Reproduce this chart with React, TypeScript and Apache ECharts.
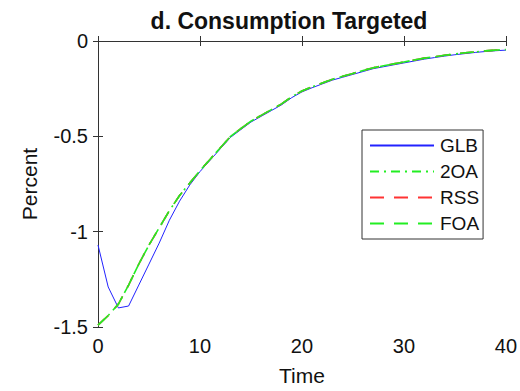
import React, { useEffect, useRef } from "react";
import * as echarts from "echarts";

const time = Array.from({ length: 41 }, (_, i) => i);

const glb = [
  -1.07, -1.29, -1.4, -1.39, -1.28, -1.17, -1.06, -0.94, -0.84, -0.755, -0.685,
  -0.625, -0.565, -0.505, -0.465, -0.425, -0.395, -0.365, -0.335, -0.297, -0.267,
  -0.245, -0.225, -0.205, -0.19, -0.175, -0.16, -0.145, -0.135, -0.125, -0.115,
  -0.105, -0.095, -0.087, -0.079, -0.072, -0.066, -0.06, -0.055, -0.051, -0.048,
];

const oa2 = [
  -1.49, -1.44, -1.38, -1.28, -1.17, -1.07, -0.98, -0.89, -0.81, -0.745, -0.68,
  -0.62, -0.56, -0.5, -0.46, -0.42, -0.39, -0.36, -0.33, -0.292, -0.262,
  -0.24, -0.22, -0.2, -0.185, -0.17, -0.155, -0.14, -0.13, -0.12, -0.11,
  -0.1, -0.09, -0.083, -0.075, -0.068, -0.062, -0.057, -0.052, -0.048, -0.045,
];

const rss = [...oa2];
const foa = [...oa2];

const pairs = (vals: number[]) => time.map((t, i) => [t, vals[i]]);

export default function App() {
  const ref = useRef<HTMLDivElement>(null);
  useEffect(() => {
    if (!ref.current) return;
    const chart = echarts.init(ref.current, undefined, { renderer: "svg" });
    const font = "Liberation Sans, Arial, sans-serif";
    const axisCommon = {
      axisLine: { show: true, lineStyle: { color: "#333", width: 1 } },
      axisTick: { show: true, inside: true, length: 5, lineStyle: { color: "#333" } },
      splitLine: { show: false },
    };
    chart.setOption({
      animation: false,
      title: {
        text: "d. Consumption Targeted",
        left: 284,
        top: 4,
        textAlign: "center",
        textStyle: { fontFamily: font, fontSize: 23, fontWeight: "bold", color: "#111" },
      },
      grid: { left: 98, right: 12, top: 41, bottom: 64, containLabel: false },
      legend: {
        orient: "vertical",
        left: 362,
        top: 130,
        padding: [6, 4, 6, 7],
        itemWidth: 64,
        itemHeight: 14,
        itemGap: 7,
        borderColor: "#333",
        borderWidth: 1,
        backgroundColor: "#fff",
        itemStyle: { color: "transparent", borderWidth: 0 },
        textStyle: { fontFamily: font, fontSize: 19, color: "#111", padding: [0, 0, 0, 1] },
        data: ["GLB", "2OA", "RSS", "FOA"],
      },
      xAxis: [
        {
          type: "value",
          min: 0,
          max: 40,
          interval: 10,
          name: "Time",
          nameLocation: "middle",
          nameGap: 38,
          nameTextStyle: { fontFamily: font, fontSize: 21, color: "#111" },
          axisLabel: { fontFamily: font, fontSize: 20, color: "#111", margin: 9 },
          ...axisCommon,
        },
        {
          type: "value",
          position: "top",
          min: 0,
          max: 40,
          interval: 10,
          axisLabel: { show: false },
          ...axisCommon,
        },
      ],
      yAxis: [
        {
          type: "value",
          min: -1.5,
          max: 0,
          interval: 0.5,
          name: "Percent",
          nameLocation: "middle",
          nameGap: 58,
          nameTextStyle: { fontFamily: font, fontSize: 21, color: "#111" },
          axisLabel: { fontFamily: font, fontSize: 20, color: "#111", margin: 10 },
          ...axisCommon,
        },
        {
          type: "value",
          position: "right",
          min: -1.5,
          max: 0,
          interval: 0.5,
          axisLabel: { show: false },
          ...axisCommon,
        },
      ],
      series: [
        {
          name: "GLB",
          type: "line",
          data: pairs(glb),
          symbol: "none",
          lineStyle: { color: "#2222ff", width: 1 },
          itemStyle: { color: "#2222ff" },
        },
        {
          name: "2OA",
          type: "line",
          data: pairs(oa2),
          symbol: "none",
          lineStyle: { color: "#22ee22", width: 1.6, type: [9, 5, 2, 5] },
          itemStyle: { color: "#22ee22" },
        },
        {
          name: "RSS",
          type: "line",
          data: pairs(rss),
          symbol: "none",
          lineStyle: { color: "#ff3333", width: 1.6, type: [14, 10] },
          itemStyle: { color: "#ff3333" },
        },
        {
          name: "FOA",
          type: "line",
          data: pairs(foa),
          symbol: "none",
          lineStyle: { color: "#22ee22", width: 1.6, type: [14, 10] },
          itemStyle: { color: "#22ee22" },
        },
      ],
    });
    return () => chart.dispose();
  }, []);
  return (
    <div
      ref={ref}
      style={{ position: "absolute", left: 0, top: 0, width: 520, height: 391 }}
    />
  );
}
